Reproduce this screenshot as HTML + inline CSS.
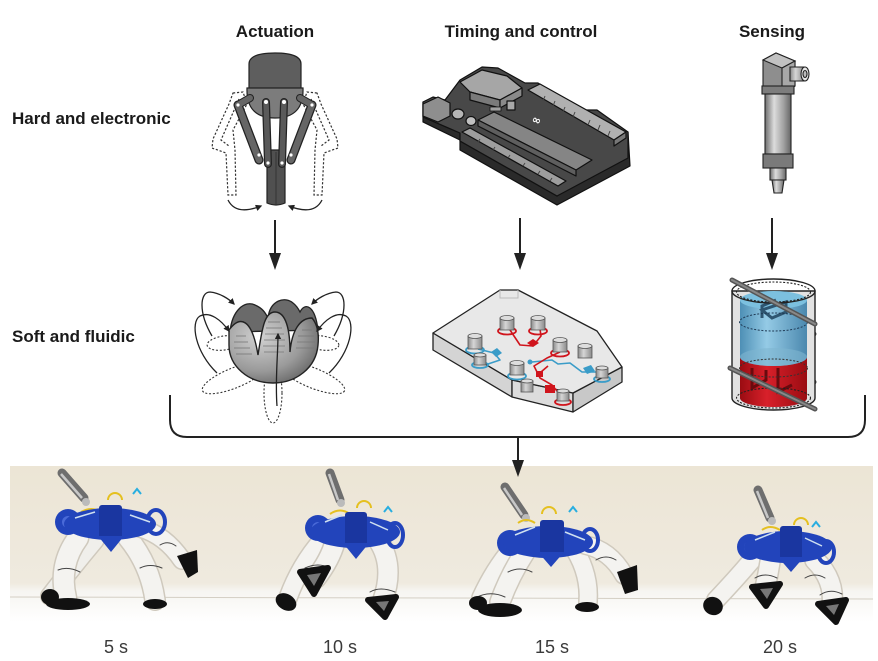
<!DOCTYPE html>
<html><head><meta charset="utf-8">
<style>
html,body{margin:0;padding:0;background:#fff;}
body{width:878px;height:661px;overflow:hidden;position:relative;font-family:"Liberation Sans",sans-serif;}
svg{position:absolute;left:0;top:0;}
</style></head>
<body>
<svg width="878" height="661" viewBox="0 0 878 661" xmlns="http://www.w3.org/2000/svg">
<defs>
 <marker id="ah" viewBox="0 0 10 10" refX="8" refY="5" markerWidth="5" markerHeight="5" orient="auto"><path d="M0,0 L10,5 L0,10 z" fill="#222"/></marker>
 <linearGradient id="metal" x1="0" x2="1" y1="0" y2="0">
  <stop offset="0" stop-color="#6e6e6e"/><stop offset="0.35" stop-color="#dcdcdc"/><stop offset="0.7" stop-color="#a4a4a4"/><stop offset="1" stop-color="#666"/>
 </linearGradient>
 <radialGradient id="sph" cx="0.35" cy="0.35" r="0.8">
  <stop offset="0" stop-color="#d2d2d2"/><stop offset="0.6" stop-color="#9a9a9a"/><stop offset="1" stop-color="#5a5a5a"/>
 </radialGradient>
 <linearGradient id="photo" x1="0" x2="0" y1="0" y2="1">
  <stop offset="0" stop-color="#ece5d5"/><stop offset="0.75" stop-color="#efeadf"/><stop offset="0.8" stop-color="#f6f5f1"/><stop offset="1" stop-color="#ffffff"/>
 </linearGradient>
 <linearGradient id="blue" x1="0" x2="1">
  <stop offset="0" stop-color="#3d86b0"/><stop offset="0.4" stop-color="#8cc8e6"/><stop offset="1" stop-color="#3a7ea8"/>
 </linearGradient>
 <linearGradient id="red" x1="0" x2="1">
  <stop offset="0" stop-color="#9a0c12"/><stop offset="0.4" stop-color="#d8202a"/><stop offset="1" stop-color="#9a0c12"/>
 </linearGradient>
 <linearGradient id="cyl" x1="0" x2="1">
  <stop offset="0" stop-color="#8a8a8a"/><stop offset="0.4" stop-color="#d6d6d6"/><stop offset="1" stop-color="#8a8a8a"/>
 </linearGradient>
</defs>

<!-- Headings -->
<g font-family="Liberation Sans, sans-serif" font-weight="bold" font-size="17" fill="#1a1a1a">
 <text x="275" y="37" text-anchor="middle">Actuation</text>
 <text x="521" y="37" text-anchor="middle">Timing and control</text>
 <text x="772" y="37" text-anchor="middle">Sensing</text>
 <text x="12" y="124">Hard and electronic</text>
 <text x="12" y="342">Soft and fluidic</text>
</g>

<!-- ============ Gripper ============ -->
<g>
 <g fill="none" stroke="#333" stroke-width="1.2" stroke-dasharray="2.2,1.8">
  <path d="M233,93 L243,92 L247,104 L233,130 L235,150 L236,195 L228,195 L226,153 L212,148 L213,139 L229,104 Z"/>
  <path d="M239,99 L221,140 L229,146"/>
  <path d="M317,93 L307,92 L303,104 L317,130 L315,150 L314,195 L322,195 L324,153 L338,148 L337,139 L321,104 Z"/>
  <path d="M311,99 L329,140 L321,146"/>
 </g>
 <path d="M228,200 Q236,216 261,206" fill="none" stroke="#222" stroke-width="1.3" marker-end="url(#ah)"/>
 <path d="M322,200 Q314,216 289,206" fill="none" stroke="#222" stroke-width="1.3" marker-end="url(#ah)"/>
 <path d="M249,64 Q249,53 275,53 Q301,53 301,64 L301,92 L249,92 Z" fill="#5e5e5e" stroke="#222" stroke-width="1.2"/>
 <path d="M247,88 L303,88 Q304,118 275,118 Q246,118 247,88 Z" fill="#7c7c7c" stroke="#222" stroke-width="1.2"/>
 <path d="M267,150 L285,150 L285,203 Q276,207 267,203 Z" fill="#505050" stroke="#222" stroke-width="1.2"/>
 <line x1="276" y1="152" x2="276" y2="204" stroke="#333" stroke-width="1"/>
 <g stroke-linecap="round">
  <line x1="238" y1="105" x2="259" y2="160" stroke="#222" stroke-width="9"/>
  <line x1="312" y1="105" x2="291" y2="160" stroke="#222" stroke-width="9"/>
  <line x1="266" y1="102" x2="268" y2="164" stroke="#222" stroke-width="8"/>
  <line x1="284" y1="102" x2="282" y2="164" stroke="#222" stroke-width="8"/>
  <line x1="238" y1="105" x2="250" y2="98" stroke="#222" stroke-width="8"/>
  <line x1="312" y1="105" x2="300" y2="98" stroke="#222" stroke-width="8"/>
  <line x1="238" y1="105" x2="259" y2="160" stroke="#666" stroke-width="6.5"/>
  <line x1="312" y1="105" x2="291" y2="160" stroke="#666" stroke-width="6.5"/>
  <line x1="266" y1="102" x2="268" y2="164" stroke="#5a5a5a" stroke-width="5.5"/>
  <line x1="284" y1="102" x2="282" y2="164" stroke="#5a5a5a" stroke-width="5.5"/>
  <line x1="238" y1="105" x2="250" y2="98" stroke="#666" stroke-width="6"/>
  <line x1="312" y1="105" x2="300" y2="98" stroke="#666" stroke-width="6"/>
 </g>
 <g fill="#fff"><circle cx="238" cy="105" r="1.6"/><circle cx="312" cy="105" r="1.6"/><circle cx="266" cy="102" r="2"/><circle cx="284" cy="102" r="2"/><circle cx="259" cy="155" r="1.6"/><circle cx="291" cy="155" r="1.6"/><circle cx="268" cy="163" r="1.6"/><circle cx="282" cy="163" r="1.6"/></g>
</g>

<!-- ============ Arduino ============ -->
<g stroke="#111" stroke-width="1.2" stroke-linejoin="round">
 <polygon points="423,102 423,122 460,140 460,150 557,205 630,166 628,132 557,196 460,141 460,133 423,117" fill="#2a2a2a"/>
 <polygon points="423,102 433,97 445,100 460,80 482,67 498,68 507,73 525,83 538,83 583,110 597,110 628,132 628,158 557,196 460,141 460,133 423,117" fill="#484848"/>
 <polygon points="423,104 438,97 450,103 450,116 438,122 423,116" fill="#8e8e8e"/>
 <polygon points="460,82 482,70 507,76 522,88 500,100 470,92" fill="#a6a6a6"/>
 <polygon points="470,92 500,100 500,108 470,100" fill="#7a7a7a"/>
 <polygon points="500,100 522,88 522,96 500,108" fill="#8a8a8a"/>
 <polygon points="528,90 540,84 626,132 614,140" fill="#b0b0b0"/>
 <polygon points="614,140 626,132 626,138 614,146" fill="#777"/>
 <polygon points="478,120 494,112 592,160 576,170" fill="#858585"/>
 <polygon points="478,120 576,170 576,176 478,126" fill="#5e5e5e"/>
 <polygon points="462,132 470,128 566,181 558,186" fill="#9e9e9e"/>
 <ellipse cx="458" cy="114" rx="6" ry="5" fill="#b5b5b5"/>
 <ellipse cx="471" cy="121" rx="5" ry="4.5" fill="#c0c0c0"/>
 <rect x="507" y="101" width="8" height="9" fill="#a8a8a8"/>
 <rect x="490" y="107" width="11" height="4" fill="#a0a0a0" stroke-width="0.8"/>
</g>
<g stroke="#444" stroke-width="1">
 <line x1="545" y1="96" x2="543" y2="101"/><line x1="555" y1="101" x2="553" y2="106"/><line x1="565" y1="107" x2="563" y2="112"/><line x1="575" y1="112" x2="573" y2="117"/><line x1="590" y1="120" x2="588" y2="125"/><line x1="600" y1="125" x2="598" y2="130"/><line x1="610" y1="131" x2="608" y2="136"/>
 <line x1="480" y1="139" x2="478" y2="142"/><line x1="495" y1="147" x2="493" y2="150"/><line x1="510" y1="155" x2="508" y2="158"/><line x1="525" y1="163" x2="523" y2="166"/><line x1="540" y1="171" x2="538" y2="174"/><line x1="552" y1="178" x2="550" y2="181"/>
</g>
<text x="531" y="122" font-family="DejaVu Sans, sans-serif" font-size="11" font-weight="bold" fill="#fff" transform="rotate(20 531 122)">∞</text>

<!-- ============ Sensor ============ -->
<g stroke="#222" stroke-width="1.1">
 <polygon points="763,60 776,53 795,61 795,86 782,93 763,86" fill="#8e8e8e"/>
 <polygon points="763,60 776,53 795,61 782,68" fill="#c2c2c2"/>
 <polygon points="782,68 795,61 795,86 782,93" fill="#a8a8a8"/>
 <path d="M790,67 L804,67 L804,81 L790,81 Z" fill="url(#cyl)"/>
 <ellipse cx="805" cy="74" rx="4" ry="7" fill="#e6e6e6"/>
 <ellipse cx="805" cy="74" rx="2" ry="3.5" fill="#bbb"/>
 <rect x="762" y="86" width="32" height="8" fill="#7d7d7d"/>
 <rect x="765" y="94" width="26" height="60" fill="url(#metal)"/>
 <rect x="763" y="154" width="30" height="14" fill="#7a7a7a"/>
 <rect x="770" y="168" width="16" height="12" fill="url(#metal)"/>
 <path d="M772,180 L784,180 L782,193 L774,193 Z" fill="url(#metal)"/>
</g>

<!-- ============ Top arrows ============ -->
<g stroke="#222" stroke-width="2">
 <line x1="275" y1="220" x2="275" y2="256"/>
 <line x1="520" y1="218" x2="520" y2="256"/>
 <line x1="772" y1="218" x2="772" y2="256"/>
</g>
<g fill="#222">
 <polygon points="269,253 281,253 275,270"/>
 <polygon points="514,253 526,253 520,270"/>
 <polygon points="766,253 778,253 772,270"/>
</g>

<!-- ============ Soft flower actuator ============ -->
<g>
 <g fill="none" stroke="#333" stroke-width="1.1" stroke-dasharray="2,1.8">
  <ellipse cx="234" cy="378" rx="34" ry="10" transform="rotate(-22 234 378)"/>
  <ellipse cx="313" cy="378" rx="34" ry="10" transform="rotate(22 313 378)"/>
  <ellipse cx="273" cy="393" rx="9" ry="30"/>
  <ellipse cx="224" cy="343" rx="17" ry="7" transform="rotate(-8 224 343)"/>
  <ellipse cx="322" cy="343" rx="17" ry="7" transform="rotate(8 322 343)"/>
 </g>
 <path d="M230,332 C232,310 245,300 255,305 C262,308 265,312 268,318 C270,300 285,296 293,303 C297,306 299,310 300,312 C305,302 315,305 318,330 Z" fill="#6a6a6a" stroke="#222" stroke-width="1.3"/>
 <path d="M229,330 C240,315 252,318 258,355 C262,330 264,312 275,312 C286,312 290,330 290,352 C292,330 300,318 312,318 C318,325 319,335 318,345 C316,368 296,383 273,383 C248,383 229,366 229,345 Z" fill="url(#sph)" stroke="#222" stroke-width="1.4"/>
 <g stroke="#777" stroke-width="0.8">
  <line x1="268" y1="322" x2="280" y2="322"/><line x1="266" y1="328" x2="282" y2="328"/><line x1="265" y1="334" x2="284" y2="334"/><line x1="264" y1="340" x2="285" y2="340"/><line x1="263" y1="346" x2="285" y2="346"/><line x1="264" y1="352" x2="284" y2="352"/>
  <line x1="236" y1="336" x2="246" y2="336"/><line x1="234" y1="342" x2="248" y2="342"/><line x1="234" y1="348" x2="250" y2="348"/><line x1="236" y1="354" x2="252" y2="354"/>
  <line x1="302" y1="330" x2="312" y2="330"/><line x1="298" y1="336" x2="314" y2="336"/><line x1="297" y1="342" x2="315" y2="342"/><line x1="296" y1="348" x2="314" y2="348"/>
 </g>
 <g fill="none" stroke="#222" stroke-width="1.3" marker-end="url(#ah)">
  <path d="M217,373 C195,352 190,322 200,316 C210,311 221,320 229,331"/>
  <path d="M212,336 C198,312 200,292 210,292 C220,293 229,299 234,304"/>
  <path d="M329,373 C351,352 356,322 346,316 C336,311 325,320 317,331"/>
  <path d="M334,336 C348,312 346,292 336,292 C326,293 317,299 312,304"/>
  <path d="M277,406 C275,380 278,355 278,334"/>
 </g>
</g>

<!-- ============ Microfluidic chip ============ -->
<g stroke="#222" stroke-width="1.3" stroke-linejoin="round">
 <polygon points="433,333 512,380 512,397 433,350" fill="#d4d4d4"/>
 <polygon points="512,380 573,393 573,412 512,397" fill="#dcdcdc"/>
 <polygon points="573,393 622,367 622,382 573,412" fill="#c8c8c8"/>
 <polygon points="433,333 500,290 518,290 597,331 622,367 573,393 512,380" fill="#e8e8e8"/>
</g>
<polyline points="500,290 500,298 518,298 518,290" fill="none" stroke="#bbb" stroke-width="1"/>
<g fill="none" stroke-width="1.6" stroke-linejoin="round">
 <path d="M510,330 L520,345 L533,346 L541,336 L540,329" stroke="#d0141c"/>
 <path d="M478,349 L494,353 L500,360 L488,364 L478,361" stroke="#3a9cc8"/>
 <path d="M532,362 L552,360 L558,364 L570,363 L582,372 L600,372" stroke="#3a9cc8"/>
 <path d="M560,352 L547,358 L534,366 L540,378 L552,385 L562,397" stroke="#d0141c"/>
 <path d="M541,372 L548,366" stroke="#d0141c"/>
</g>
<g fill="#d0141c"><path d="M527,343 l6,-4 l6,4 l-6,4z"/><rect x="536" y="371" width="7" height="6"/><path d="M545,385 l10,0 l0,8 l-10,0z"/></g>
<g fill="#3a9cc8"><path d="M491,352 l6,-4 l5,5 l-6,4z"/><path d="M583,368 l8,-3 l4,6 l-8,3z"/><circle cx="530" cy="362" r="2.5"/></g>
<g stroke="#555" stroke-width="0.8">
 <g><ellipse cx="507" cy="331" rx="9" ry="3.5" fill="none" stroke="#d0141c" stroke-width="1.8"/><rect x="500" y="318" width="14" height="12" fill="url(#cyl)"/><ellipse cx="507" cy="318" rx="7" ry="2.5" fill="#ddd"/></g>
 <g><ellipse cx="538" cy="331" rx="9" ry="3.5" fill="none" stroke="#d0141c" stroke-width="1.8"/><rect x="531" y="318" width="14" height="12" fill="url(#cyl)"/><ellipse cx="538" cy="318" rx="7" ry="2.5" fill="#ddd"/></g>
 <g><ellipse cx="475" cy="350" rx="9" ry="3.5" fill="none" stroke="#3a9cc8" stroke-width="1.8"/><rect x="468" y="336" width="14" height="13" fill="url(#cyl)"/><ellipse cx="475" cy="336" rx="7" ry="2.5" fill="#ddd"/></g>
 <g><ellipse cx="480" cy="365" rx="8" ry="3" fill="none" stroke="#3a9cc8" stroke-width="1.8"/><rect x="474" y="355" width="12" height="10" fill="url(#cyl)"/><ellipse cx="480" cy="355" rx="6" ry="2" fill="#ddd"/></g>
 <g><ellipse cx="560" cy="353" rx="9" ry="3.5" fill="none" stroke="#d0141c" stroke-width="1.8"/><rect x="553" y="340" width="14" height="12" fill="url(#cyl)"/><ellipse cx="560" cy="340" rx="7" ry="2.5" fill="#ddd"/></g>
 <g><rect x="578" y="346" width="14" height="12" fill="url(#cyl)"/><ellipse cx="585" cy="346" rx="7" ry="2.5" fill="#ddd"/></g>
 <g><ellipse cx="517" cy="376" rx="9" ry="3.5" fill="none" stroke="#3a9cc8" stroke-width="1.8"/><rect x="510" y="363" width="14" height="12" fill="url(#cyl)"/><ellipse cx="517" cy="363" rx="7" ry="2.5" fill="#ddd"/></g>
 <g><rect x="521" y="381" width="12" height="11" fill="url(#cyl)"/><ellipse cx="527" cy="381" rx="6" ry="2" fill="#ddd"/></g>
 <g><ellipse cx="602" cy="379" rx="8" ry="3" fill="none" stroke="#3a9cc8" stroke-width="1.8"/><rect x="596" y="368" width="12" height="10" fill="url(#cyl)"/><ellipse cx="602" cy="368" rx="6" ry="2" fill="#ddd"/></g>
 <g><ellipse cx="563" cy="402" rx="8" ry="3" fill="none" stroke="#d0141c" stroke-width="1.8"/><rect x="557" y="391" width="12" height="10" fill="url(#cyl)"/><ellipse cx="563" cy="391" rx="6" ry="2" fill="#ddd"/></g>
</g>

<!-- ============ Reservoir sensor ============ -->
<g>
 <line x1="800" y1="330" x2="814" y2="334" stroke="#444" stroke-width="5" stroke-linecap="round"/>
 <line x1="800" y1="377" x2="814" y2="382" stroke="#444" stroke-width="5" stroke-linecap="round"/>
 <path d="M732,291 L732,398 A41.5,12 0 0 0 815,398 L815,291 Z" fill="#e2e2e2" stroke="#222" stroke-width="1.4"/>
 <path d="M740,300 L740,398 A33.5,9 0 0 0 807,398 L807,300 Z" fill="url(#blue)" opacity="0.9"/>
 <path d="M740,357 L740,398 A33.5,9 0 0 0 807,398 L807,357 A33.5,9 0 0 1 740,357 Z" fill="url(#red)"/>
 <ellipse cx="773.5" cy="357" rx="33.5" ry="9" fill="#7fb6d0" opacity="0.6"/>
 <ellipse cx="773.5" cy="300" rx="33.5" ry="9" fill="#7cc0df"/>
 <path d="M762,318 L762,306 L776,300 M762,310 L786,302 L786,312 L772,318 Z" fill="none" stroke="#2e5570" stroke-width="3"/>
 <path d="M752,368 L752,388 L766,380 L766,370 M778,368 L778,392 L792,385" fill="none" stroke="#6a0a0e" stroke-width="3"/>
 <ellipse cx="773.5" cy="292" rx="37" ry="10" fill="none" stroke="#222" stroke-width="1.1" stroke-dasharray="2,1.6"/>
 <ellipse cx="773.5" cy="398" rx="37" ry="10" fill="none" stroke="#222" stroke-width="1.1" stroke-dasharray="2,1.6"/>
 <ellipse cx="773.5" cy="322" rx="34" ry="9" fill="none" stroke="#1f3a55" stroke-width="1" stroke-dasharray="2,1.6"/>
 <ellipse cx="773.5" cy="368" rx="34" ry="9" fill="none" stroke="#333" stroke-width="1" stroke-dasharray="2,1.6"/>
 <ellipse cx="773.5" cy="291" rx="41.5" ry="12" fill="none" stroke="#222" stroke-width="1.4"/>
 <line x1="732" y1="280" x2="815" y2="324" stroke="#555" stroke-width="5" stroke-linecap="round"/>
 <line x1="730" y1="368" x2="815" y2="409" stroke="#555" stroke-width="5" stroke-linecap="round"/>
 <line x1="732" y1="280" x2="815" y2="324" stroke="#888" stroke-width="2" stroke-linecap="round"/>
 <line x1="730" y1="368" x2="815" y2="409" stroke="#888" stroke-width="2" stroke-linecap="round"/>
</g>

<!-- ============ Bracket & arrow ============ -->
<path d="M170,395 L170,420 Q170,437 187,437 L848,437 Q865,437 865,420 L865,395" fill="none" stroke="#222" stroke-width="2"/>
<line x1="518" y1="437" x2="518" y2="462" stroke="#222" stroke-width="2"/>

<!-- ============ Photo strip ============ -->
<rect x="10" y="466" width="863" height="156" fill="url(#photo)"/>
<line x1="10" y1="597" x2="873" y2="599" stroke="#d4cfc4" stroke-width="1"/>
<polygon points="512,460 524,460 518,477" fill="#222"/>

<!-- Frame 1 -->
<g fill="none" stroke-linecap="round">
 <path d="M95,540 Q70,570 50,596" stroke="#cfc9bd" stroke-width="20"/>
 <path d="M95,540 Q70,570 50,596" stroke="#f0efeb" stroke-width="17"/>
 <path d="M78,538 Q58,565 66,598" stroke="#cfc9bd" stroke-width="23"/>
 <path d="M78,538 Q58,565 66,598" stroke="#f4f3f0" stroke-width="20"/>
 <path d="M128,538 Q150,565 155,600" stroke="#cfc9bd" stroke-width="22"/>
 <path d="M128,538 Q150,565 155,600" stroke="#f4f3f0" stroke-width="19"/>
 <path d="M140,528 Q165,535 182,560" stroke="#cfc9bd" stroke-width="20"/>
 <path d="M140,528 Q165,535 182,560" stroke="#f4f3f0" stroke-width="17"/>
 <path d="M58,570 Q68,566 80,572 M140,568 Q150,563 162,568 M160,545 Q168,540 176,546" stroke="#444" stroke-width="1"/>
</g>
<g fill="#111">
 <ellipse cx="68" cy="604" rx="22" ry="6"/><ellipse cx="50" cy="597" rx="9" ry="8"/>
 <ellipse cx="155" cy="604" rx="12" ry="5"/>
 <path d="M177,556 L197,550 L198,572 L188,578 Z"/>
</g>
<g>
 <line x1="62" y1="473" x2="84" y2="498" stroke="#6e6e6e" stroke-width="9" stroke-linecap="round"/>
 <line x1="61" y1="474" x2="82" y2="498" stroke="#c8c8c8" stroke-width="2.5"/>
 <circle cx="86" cy="502" r="4" fill="#bbb"/>
 <path d="M108,500 A7,7 0 0 1 122,500" fill="none" stroke="#e5c020" stroke-width="2"/>
 <path d="M81,512 Q92,506 100,512" fill="none" stroke="#e5c020" stroke-width="2"/>
 <path d="M133,494 L137,489 L141,494" fill="none" stroke="#28aee0" stroke-width="2"/>
 <circle cx="68" cy="522" r="13" fill="#2244bb"/><circle cx="68" cy="522" r="6" fill="#4a6ad8"/>
 <ellipse cx="110" cy="524" rx="46" ry="16" fill="#2244bb"/>
 <rect x="99" y="505" width="23" height="34" rx="3" fill="#1a36a0"/>
 <ellipse cx="156" cy="522" rx="9" ry="12" fill="none" stroke="#2244bb" stroke-width="4"/>
 <polygon points="98,536 124,536 111,552" fill="#2244bb"/>
 <path d="M75,518 L95,512 M130,515 L150,522" stroke="#cfe0f0" stroke-width="1.5"/>
</g>

<!-- Frame 2 -->
<g fill="none" stroke-linecap="round">
 <path d="M322,540 Q300,565 288,598" stroke="#cfc9bd" stroke-width="20"/>
 <path d="M322,540 Q300,565 288,598" stroke="#f4f3f0" stroke-width="17"/>
 <path d="M335,542 Q330,560 316,578" stroke="#cfc9bd" stroke-width="22"/>
 <path d="M335,542 Q330,560 316,578" stroke="#f4f3f0" stroke-width="19"/>
 <path d="M378,540 Q395,565 383,600" stroke="#cfc9bd" stroke-width="22"/>
 <path d="M378,540 Q395,565 383,600" stroke="#f4f3f0" stroke-width="19"/>
 <path d="M370,592 Q380,586 395,592 M305,568 Q318,562 330,568" stroke="#444" stroke-width="1"/>
</g>
<g fill="#111">
 <path d="M300,572 L328,568 L314,594 Z" stroke="#111" stroke-width="6" stroke-linejoin="round"/>
 <path d="M307,575 L321,573 L314,586 Z" fill="#777"/>
 <ellipse cx="286" cy="602" rx="11" ry="8" transform="rotate(30 286 602)"/>
 <path d="M368,600 L396,597 L385,617 Z" stroke="#111" stroke-width="6" stroke-linejoin="round"/>
 <path d="M376,602 L389,601 L384,611 Z" fill="#777"/>
</g>
<g>
 <line x1="330" y1="473" x2="340" y2="500" stroke="#6e6e6e" stroke-width="9" stroke-linecap="round"/>
 <line x1="329" y1="474" x2="338" y2="500" stroke="#c8c8c8" stroke-width="2.5"/>
 <circle cx="341" cy="503" r="4" fill="#bbb"/>
 <path d="M357,508 A7,7 0 0 1 371,508" fill="none" stroke="#e5c020" stroke-width="2"/>
 <path d="M330,514 Q340,507 350,514" fill="none" stroke="#e5c020" stroke-width="2"/>
 <path d="M384,512 L388,507 L392,512" fill="none" stroke="#28aee0" stroke-width="2"/>
 <circle cx="318" cy="528" r="13" fill="#2244bb"/><circle cx="318" cy="528" r="6" fill="#4a6ad8"/>
 <ellipse cx="355" cy="532" rx="45" ry="16" fill="#2244bb"/>
 <rect x="345" y="512" width="22" height="34" rx="3" fill="#1a36a0"/>
 <ellipse cx="395" cy="535" rx="8" ry="12" fill="none" stroke="#2244bb" stroke-width="4"/>
 <polygon points="343,543 369,543 356,559" fill="#2244bb"/>
 <path d="M325,522 L342,515 M370,522 L388,530" stroke="#cfe0f0" stroke-width="1.5"/>
</g>

<!-- Frame 3 -->
<g fill="none" stroke-linecap="round">
 <path d="M512,550 Q495,570 482,598" stroke="#cfc9bd" stroke-width="22"/>
 <path d="M512,550 Q495,570 482,598" stroke="#f4f3f0" stroke-width="19"/>
 <path d="M525,552 Q510,575 500,602" stroke="#cfc9bd" stroke-width="22"/>
 <path d="M525,552 Q510,575 500,602" stroke="#f4f3f0" stroke-width="19"/>
 <path d="M575,550 Q590,575 588,602" stroke="#cfc9bd" stroke-width="20"/>
 <path d="M575,550 Q590,575 588,602" stroke="#f4f3f0" stroke-width="17"/>
 <path d="M585,545 Q610,550 624,575" stroke="#cfc9bd" stroke-width="20"/>
 <path d="M585,545 Q610,550 624,575" stroke="#f4f3f0" stroke-width="17"/>
 <path d="M508,572 Q520,566 532,572 M596,560 Q606,554 616,560 M475,598 Q490,590 505,597" stroke="#444" stroke-width="1"/>
</g>
<g fill="#111">
 <ellipse cx="500" cy="610" rx="22" ry="7"/><ellipse cx="478" cy="603" rx="9" ry="7"/>
 <ellipse cx="587" cy="607" rx="12" ry="5"/>
 <path d="M617,572 L637,565 L638,590 L625,594 Z"/>
</g>
<g>
 <line x1="505" y1="487" x2="524" y2="515" stroke="#6e6e6e" stroke-width="9" stroke-linecap="round"/>
 <line x1="504" y1="488" x2="522" y2="515" stroke="#c8c8c8" stroke-width="2.5"/>
 <circle cx="526" cy="518" r="4" fill="#bbb"/>
 <path d="M542,514 A7,7 0 0 1 556,514" fill="none" stroke="#e5c020" stroke-width="2"/>
 <path d="M518,523 Q526,517 535,523" fill="none" stroke="#e5c020" stroke-width="2"/>
 <path d="M569,512 L573,507 L577,512" fill="none" stroke="#28aee0" stroke-width="2"/>
 <circle cx="510" cy="543" r="13" fill="#2244bb"/><circle cx="510" cy="543" r="6" fill="#4a6ad8"/>
 <ellipse cx="548" cy="542" rx="45" ry="16" fill="#2244bb"/>
 <rect x="540" y="520" width="24" height="34" rx="3" fill="#1a36a0"/>
 <ellipse cx="590" cy="540" rx="8" ry="11" fill="none" stroke="#2244bb" stroke-width="4"/>
 <polygon points="538,552 564,552 551,567" fill="#2244bb"/>
 <path d="M515,535 L535,527 M565,532 L585,540" stroke="#cfe0f0" stroke-width="1.5"/>
</g>

<!-- Frame 4 -->
<g fill="none" stroke-linecap="round">
 <path d="M752,560 Q735,580 716,600" stroke="#cfc9bd" stroke-width="20"/>
 <path d="M752,560 Q735,580 716,600" stroke="#f4f3f0" stroke-width="17"/>
 <path d="M770,562 Q768,575 765,588" stroke="#cfc9bd" stroke-width="22"/>
 <path d="M770,562 Q768,575 765,588" stroke="#f4f3f0" stroke-width="19"/>
 <path d="M815,560 Q835,580 832,605" stroke="#cfc9bd" stroke-width="22"/>
 <path d="M815,560 Q835,580 832,605" stroke="#f4f3f0" stroke-width="19"/>
 <path d="M820,595 Q830,588 842,594 M755,578 Q765,572 777,578 M805,578 Q815,572 825,578" stroke="#444" stroke-width="1"/>
</g>
<g fill="#111">
 <ellipse cx="713" cy="606" rx="10" ry="9" transform="rotate(25 713 606)"/>
 <path d="M752,587 L780,584 L766,606 Z" stroke="#111" stroke-width="6" stroke-linejoin="round"/>
 <path d="M760,589 L773,588 L767,599 Z" fill="#777"/>
 <path d="M818,604 L846,600 L836,622 Z" stroke="#111" stroke-width="6" stroke-linejoin="round"/>
 <path d="M826,606 L839,604 L834,615 Z" fill="#777"/>
</g>
<g>
 <line x1="758" y1="490" x2="770" y2="518" stroke="#6e6e6e" stroke-width="9" stroke-linecap="round"/>
 <line x1="757" y1="491" x2="768" y2="518" stroke="#c8c8c8" stroke-width="2.5"/>
 <circle cx="772" cy="521" r="4" fill="#bbb"/>
 <path d="M794,525 A7,7 0 0 1 808,525" fill="none" stroke="#e5c020" stroke-width="2"/>
 <path d="M762,530 Q770,524 780,530" fill="none" stroke="#e5c020" stroke-width="2"/>
 <path d="M812,527 L816,522 L820,527" fill="none" stroke="#28aee0" stroke-width="2"/>
 <circle cx="750" cy="547" r="13" fill="#2244bb"/><circle cx="750" cy="547" r="6" fill="#4a6ad8"/>
 <ellipse cx="788" cy="547" rx="44" ry="16" fill="#2244bb"/>
 <rect x="780" y="526" width="22" height="34" rx="3" fill="#1a36a0"/>
 <ellipse cx="826" cy="552" rx="8" ry="11" fill="none" stroke="#2244bb" stroke-width="4"/>
 <polygon points="778,557 804,557 791,572" fill="#2244bb"/>
 <path d="M755,540 L775,532 M805,538 L822,546" stroke="#cfe0f0" stroke-width="1.5"/>
</g>

<!-- Time labels -->
<g font-family="Liberation Sans, sans-serif" font-size="18" fill="#3a3a3a" text-anchor="middle">
 <text x="116" y="653">5 s</text>
 <text x="340" y="653">10 s</text>
 <text x="552" y="653">15 s</text>
 <text x="780" y="653">20 s</text>
</g>
</svg>
</body></html>
